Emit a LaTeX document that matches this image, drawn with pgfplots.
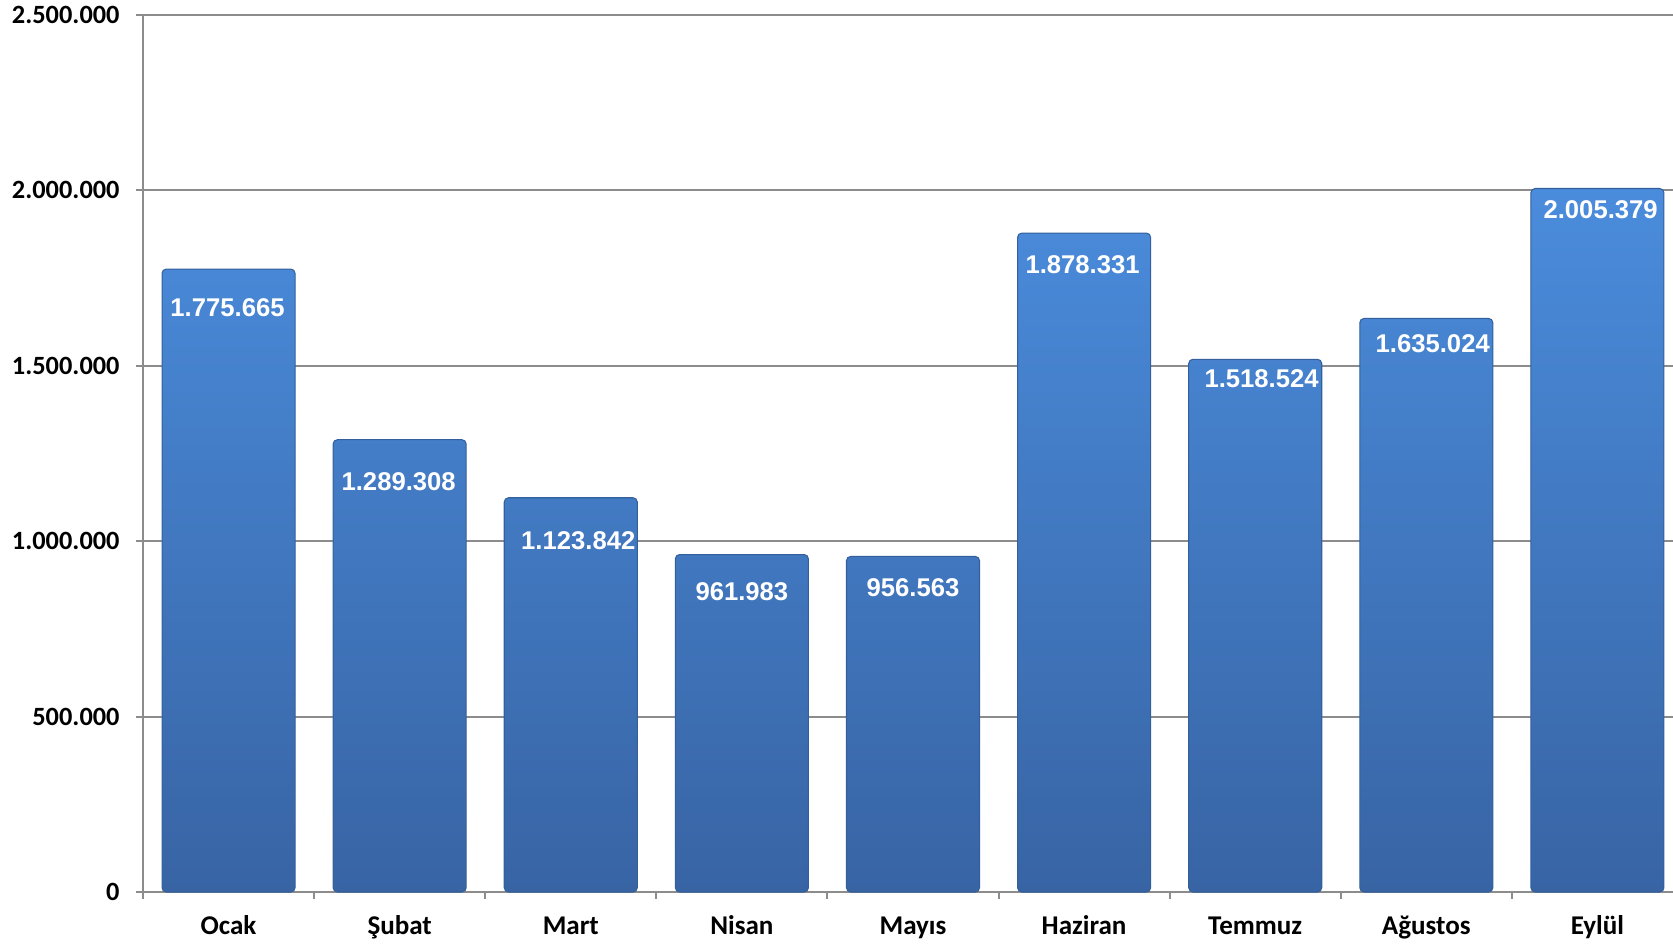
\documentclass[border=0pt]{standalone}
\usepackage{pgfplots}
\usepackage{pgfplotstable}
\pgfplotsset{compat=1.18}
\usepackage{fontspec}
\setmainfont{Carlito}
\newfontfamily\labfont{Liberation Sans}
\definecolor{bartop}{HTML}{4A8CDC}
\definecolor{barbot}{HTML}{3864A4}
\definecolor{baredge}{HTML}{33609C}
\definecolor{gridc}{HTML}{8C8C8C}

% month value label label-offset-down(mm) label-offset-right(mm)
\pgfplotstableread{
x y lab dy dx
0 1775665 1.775.665 3.85 -0.1
1 1289308 1.289.308 4.16 -0.1
2 1123842 1.123.842 4.27 0.75
3 961983 961.983 3.73 0
4 956563 956.563 3.10 0
5 1878331 1.878.331 3.20 -0.15
6 1518524 1.518.524 1.92 0.64
7 1635024 1.635.024 2.56 0.64
8 2005379 2.005.379 2.13 0.32
}\sales

\begin{document}
\begin{tikzpicture}[x=1mm,y=1mm]
\useasboundingbox (-14.3,-5.2) rectangle (153.0,89.2);
\begin{axis}[
    at={(0,0)}, anchor=south west,
    scale only axis,
    width=154.0mm, height=87.7mm,
    xmin=-0.5, xmax=8.5,
    ymin=0, ymax=2500000,
    axis lines*=left,
    axis line style={-, gridc, line width=0.6pt},
    ymajorgrids,
    grid style={gridc, line width=0.6pt},
    tick align=outside,
    major tick length=0.7mm,
    minor tick length=0.7mm,
    tick style={gridc, line width=0.6pt},
    xtick={0,...,8},
    xticklabels={Ocak,Şubat,Mart,Nisan,Mayıs,Haziran,Temmuz,Ağustos,Eylül},
    major x tick style={draw=none},
    minor xtick={-0.5,0.5,...,8.5},
    ytick={0,500000,1000000,1500000,2000000,2500000},
    yticklabels={0,500.000,1.000.000,1.500.000,2.000.000,2.500.000},
    yticklabel style={font=\bfseries\fontsize{7.5}{8}\selectfont, inner ysep=0pt, xshift=-0.4mm},
    xticklabel style={font=\bfseries\fontsize{7.7}{8}\selectfont, anchor=base, yshift=-3.5mm},
    ybar, bar width=13.3mm,
    point meta=explicit symbolic,
    nodes near coords,
    visualization depends on={\thisrow{dy} \as \labdy},
    visualization depends on={\thisrow{dx} \as \labdx},
    every node near coord/.append style={font=\labfont\bfseries\fontsize{7.3}{8}\selectfont,
        text=white, anchor=center, yshift=-\labdy mm, xshift=\labdx mm},
]
\addplot[draw=baredge, line width=0.3pt, top color=bartop, bottom color=barbot,
    rounded corners=1.2pt]
    table[x=x, y=y, meta=lab] {\sales};
\end{axis}
\end{tikzpicture}
\end{document}
